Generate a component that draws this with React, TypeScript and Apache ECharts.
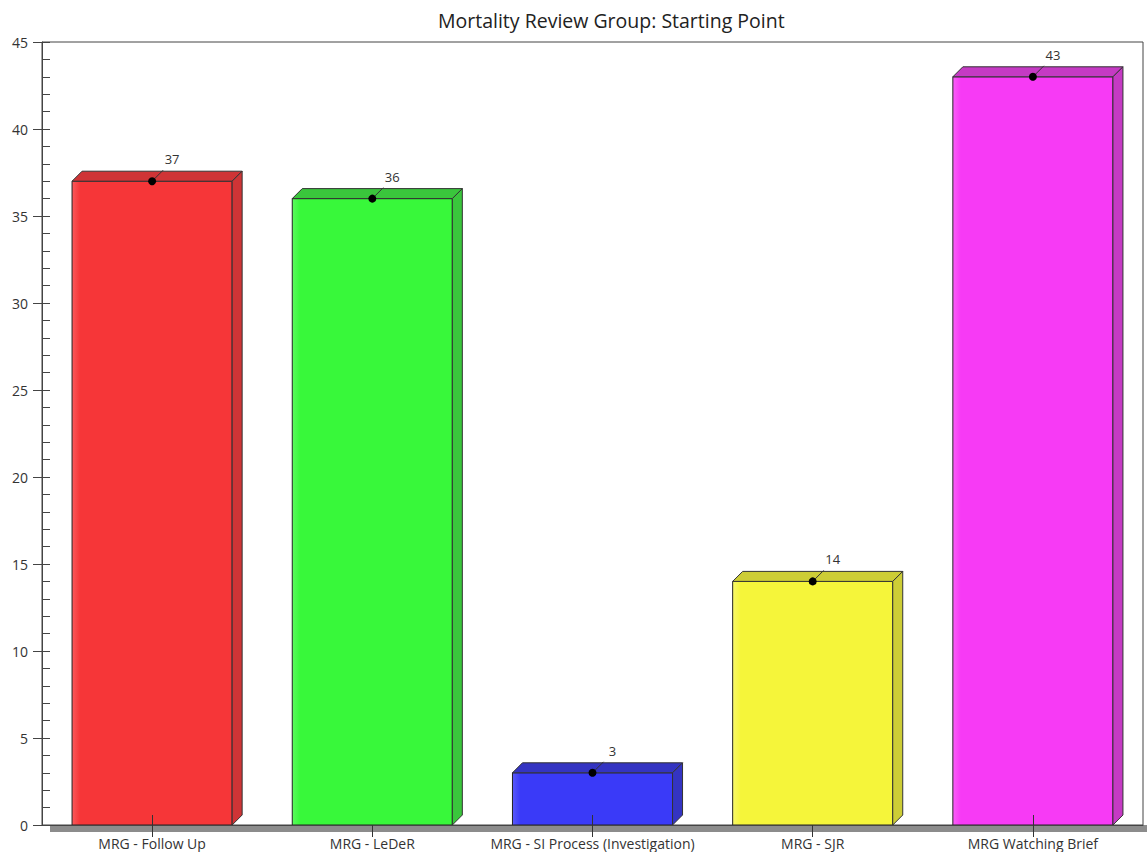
import React, { useEffect, useRef } from "react";
import * as echarts from "echarts";

const categories = [
  "MRG - Follow Up",
  "MRG - LeDeR",
  "MRG - SI Process (Investigation)",
  "MRG - SJR",
  "MRG Watching Brief",
];
const values = [37, 36, 3, 14, 43];
const frontColors = ["#F63638", "#38F83A", "#3A3AF8", "#F5F53A", "#F73AF5"];
const darkColors = ["#CF3436", "#3AC63C", "#3434C2", "#CDCD36", "#C53AC4"];
const lightColors = ["#FA5A5C", "#5CFA5E", "#5A5AFA", "#F8F86A", "#FA60F8"];

export default function App() {
  const ref = useRef<HTMLDivElement>(null);
  useEffect(() => {
    const chart = echarts.init(ref.current!, null, { renderer: "svg" });
    const font = "'Open Sans', 'Noto Sans', sans-serif";
    const option: any = {
      animation: false,
      backgroundColor: "#ffffff",
      title: {
        text: "Mortality Review Group: Starting Point",
        left: 433,
        top: 5,
        textStyle: { fontFamily: font, fontSize: 19.5, fontWeight: "normal", color: "#222" },
      },
      graphic: [
        {
          type: "rect",
          shape: { x: 50, y: 825, width: 1097, height: 7 },
          style: { fill: "#8c8c8c" },
          z: 1,
        },
      ],
      grid: {
        left: 42,
        right: 4,
        top: 42,
        bottom: 27,
        show: true,
        borderColor: "#444",
        borderWidth: 1,
        backgroundColor: "transparent",
      },
      xAxis: [
        {
          type: "category",
          data: categories,
          position: "bottom",
          axisLine: { show: true, lineStyle: { color: "#444", width: 1 } },
          axisTick: { show: true, alignWithLabel: true, length: 12, lineStyle: { color: "#333" } },
          axisLabel: { fontFamily: font, fontSize: 14, color: "#333", margin: 11, interval: 0 },
          z: 10,
        },
        {
          type: "category",
          data: categories,
          position: "bottom",
          axisLine: { show: false },
          axisTick: { show: true, inside: true, alignWithLabel: true, length: 10, lineStyle: { color: "#333" } },
          axisLabel: { show: false },
          z: 10,
        },
      ],
      yAxis: [
        {
          type: "value",
          min: 0,
          max: 45,
          interval: 5,
          position: "left",
          axisLine: { show: true, lineStyle: { color: "#444" } },
          axisTick: { show: true, length: 9, lineStyle: { color: "#444" } },
          axisLabel: { fontFamily: font, fontSize: 14, color: "#333", margin: 14 },
          splitLine: { show: false },
        },
        {
          type: "value",
          min: 0,
          max: 45,
          interval: 5,
          position: "left",
          axisLine: { show: false },
          axisTick: { show: true, inside: true, length: 8, lineStyle: { color: "#444" } },
          minorTick: { show: true, splitNumber: 5, length: 8, lineStyle: { color: "#444" } },
          axisLabel: { show: false },
          splitLine: { show: false },
        },
      ],
      series: [
        {
          type: "custom",
          xAxisIndex: 0,
          yAxisIndex: 0,
          z: 3,
          data: values.map((v, i) => [i, v]),
          renderItem: (params: any, api: any) => {
            const i = params.dataIndex;
            const v = api.value(1);
            const top = api.coord([api.value(0), v]);
            const base = api.coord([api.value(0), 0]);
            const bw = api.size([1, 0])[0] * 0.727;
            const d = 10;
            const cx = top[0];
            const x0 = cx - bw / 2;
            const x1 = cx + bw / 2;
            const yt = top[1];
            const yb = base[1];
            return {
              type: "group",
              children: [
                {
                  type: "rect",
                  shape: { x: x0, y: yt, width: bw, height: yb - yt },
                  style: {
                    fill: {
                      type: "linear",
                      x: 0,
                      y: 0,
                      x2: 1,
                      y2: 0,
                      colorStops: [
                        { offset: 0, color: lightColors[i] },
                        { offset: 0.05, color: frontColors[i] },
                        { offset: 1, color: frontColors[i] },
                      ],
                    },
                    stroke: "#222",
                    lineWidth: 1,
                  },
                },
                {
                  type: "polygon",
                  shape: { points: [[x0, yt], [x0 + d, yt - d], [x1 + d, yt - d], [x1, yt]] },
                  style: { fill: darkColors[i], stroke: "#333", lineWidth: 1 },
                },
                {
                  type: "polygon",
                  shape: { points: [[x1, yt], [x1 + d, yt - d], [x1 + d, yb - d], [x1, yb]] },
                  style: { fill: darkColors[i], stroke: "#333", lineWidth: 1 },
                },
                {
                  type: "line",
                  shape: { x1: cx, y1: yt, x2: cx + 11, y2: yt - 11 },
                  style: { stroke: "#333", lineWidth: 1 },
                },
                {
                  type: "circle",
                  shape: { cx: cx, cy: yt, r: 4 },
                  style: { fill: "#000" },
                },
                {
                  type: "text",
                  x: cx + 20,
                  y: yt - 22,
                  style: {
                    text: String(v),
                    fontFamily: font,
                    fontSize: 13,
                    fill: "#333",
                    align: "center",
                    verticalAlign: "middle",
                  },
                },
              ],
            };
          },
        },
      ],
    };
    chart.setOption(option);
    return () => chart.dispose();
  }, []);
  return (
    <div
      ref={ref}
      style={{ position: "fixed", left: 0, top: 0, width: 1147, height: 852 }}
    />
  );
}
